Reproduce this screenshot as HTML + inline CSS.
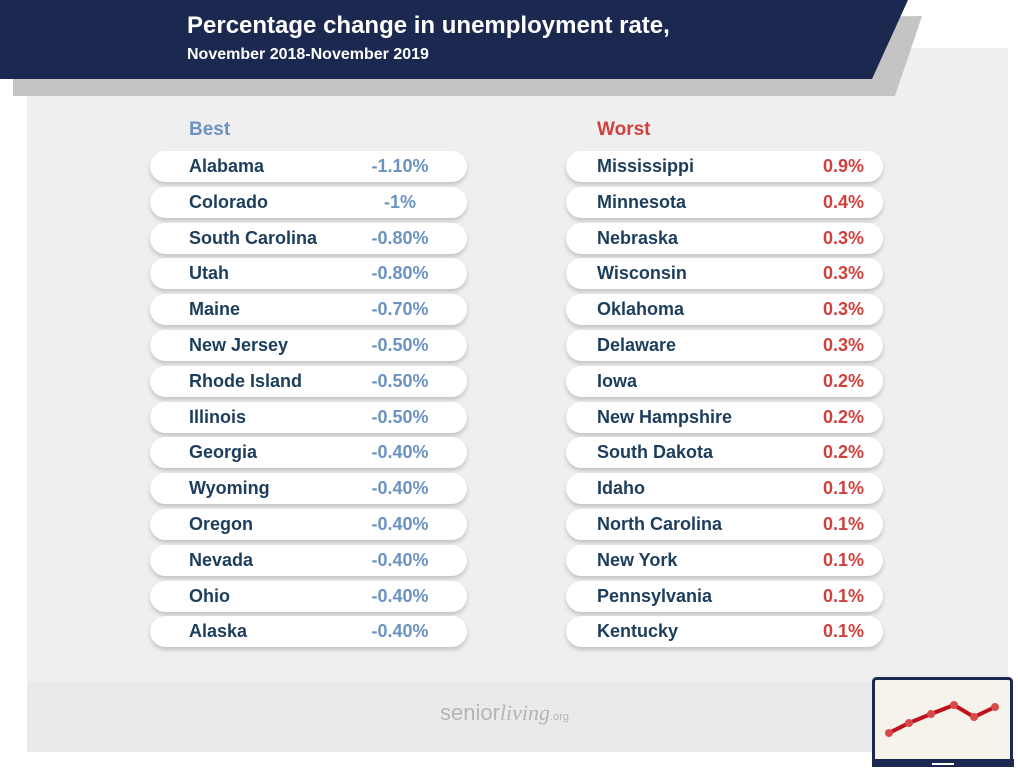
<!DOCTYPE html>
<html><head><meta charset="utf-8"><style>
body{margin:0;width:1018px;height:775px;background:#fff;position:relative;overflow:hidden;font-family:"Liberation Sans",sans-serif}
.abs{position:absolute}
.pill{position:absolute;height:31px;width:317px;background:#fff;border-radius:16px;box-shadow:0 3px 4px rgba(0,0,0,0.18);font-weight:bold;font-size:18px;color:#1d3d5c;line-height:31px}
.pill .n{position:absolute;left:39px}
.pill .v{position:absolute}
.l .v{color:#6c93c0;left:200px;width:100px;text-align:center}
.r .v{color:#d0413e;right:19px}
</style></head><body>
<div class="abs" style="left:27px;top:48px;width:981px;height:634px;background:#efefef"></div>
<div class="abs" style="left:27px;top:682px;width:981px;height:70px;background:#e8eaeb"></div>
<svg class="abs" style="left:0;top:0" width="1018" height="100">
<polygon points="13,30 922,16 895,96 13,96" fill="#c4c4c4"/>
<polygon points="0,0 908,0 872,79 0,79" fill="#1b2951"/>
</svg>
<div class="abs" style="left:187px;top:12px;color:#fff;font-weight:bold;font-size:24px">Percentage change in unemployment rate,</div>
<div class="abs" style="left:187px;top:46px;color:#fff;font-weight:bold;font-size:16px">November 2018-November 2019</div>
<div class="abs" style="left:189px;top:119px;color:#6c93c0;font-weight:bold;font-size:19px">Best</div>
<div class="abs" style="left:597px;top:119px;color:#d0413e;font-weight:bold;font-size:19px">Worst</div>
<div id="c"></div>
<div class="abs" style="left:440px;top:700px;color:#b5b5b5;font-size:22px">senior<span style="font-family:'Liberation Serif',serif;font-style:italic">living</span><span style="font-size:11px">.org</span></div>
<svg class="abs" style="left:872px;top:677px" width="142" height="94">
<rect x="1.5" y="1.5" width="138" height="87" rx="3" fill="#f6f3ea" stroke="#1b2951" stroke-width="3"/>
<rect x="0" y="82" width="142" height="8" fill="#1b2951"/>
<rect x="60" y="86" width="22" height="2" fill="#fff"/>
<polyline points="17,56 37,46 59,37 82,28 102,40 123,30" fill="none" stroke="#c0111d" stroke-width="4"/>
<g fill="#d84a4a"><circle cx="17" cy="56" r="4"/><circle cx="37" cy="46" r="4"/><circle cx="59" cy="37" r="4"/><circle cx="82" cy="28" r="4"/><circle cx="102" cy="40" r="4"/><circle cx="123" cy="30" r="4"/></g>
</svg>
<script>
var L=[["Alabama","-1.10%"],["Colorado","-1%"],["South Carolina","-0.80%"],["Utah","-0.80%"],["Maine","-0.70%"],["New Jersey","-0.50%"],["Rhode Island","-0.50%"],["Illinois","-0.50%"],["Georgia","-0.40%"],["Wyoming","-0.40%"],["Oregon","-0.40%"],["Nevada","-0.40%"],["Ohio","-0.40%"],["Alaska","-0.40%"]];
var R=[["Mississippi","0.9%"],["Minnesota","0.4%"],["Nebraska","0.3%"],["Wisconsin","0.3%"],["Oklahoma","0.3%"],["Delaware","0.3%"],["Iowa","0.2%"],["New Hampshire","0.2%"],["South Dakota","0.2%"],["Idaho","0.1%"],["North Carolina","0.1%"],["New York","0.1%"],["Pennsylvania","0.1%"],["Kentucky","0.1%"]];
var h="";
for(var i=0;i<14;i++){var t=151+i*35.8;
h+='<div class="pill l" style="left:150px;top:'+t+'px"><span class="n">'+L[i][0]+'</span><span class="v">'+L[i][1]+'</span></div>';
h+='<div class="pill r" style="left:566px;top:'+t+'px"><span class="n" style="left:31px">'+R[i][0]+'</span><span class="v">'+R[i][1]+'</span></div>';}
document.getElementById("c").innerHTML=h;
</script>
</body></html>
